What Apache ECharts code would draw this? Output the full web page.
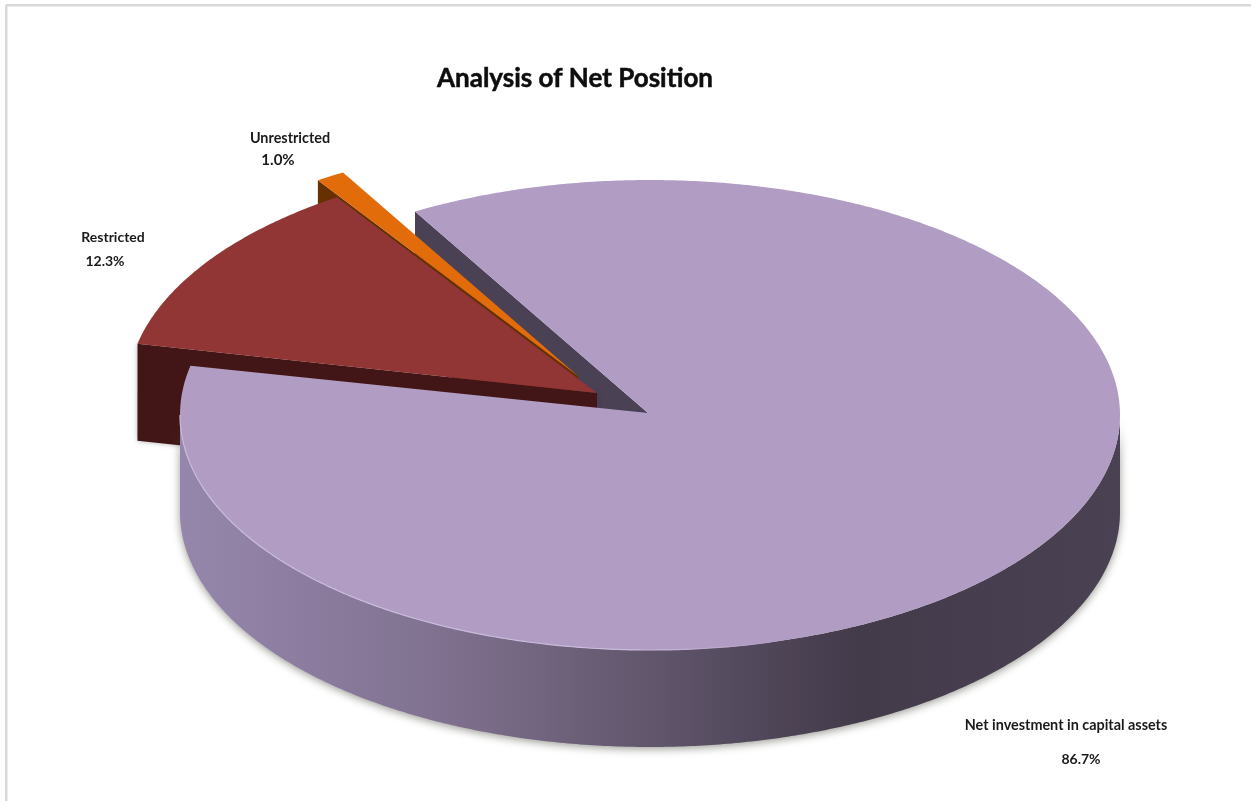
<!DOCTYPE html>
<html><head><meta charset="utf-8">
<script src="https://cdn.jsdelivr.net/npm/echarts@6/dist/echarts.min.js"></script>
<style>html,body{margin:0;padding:0;background:#fff}#c{width:1251px;height:801px}</style>
</head><body><div id="c"></div>
<script>
var categories = ['Net investment in capital assets', 'Restricted', 'Unrestricted'];
var shares = [86.7, 12.3, 1.0];
var chartTitle = 'Analysis of Net Position';

var CX = 650, CY = 415, RX = 470, RY = 235, DEPTH = 97, FIRST_ANGLE = -30;
var centerOffset = [[0, 0], [-53, -22], [-72, -39]];
var apexOffset = [[-2, -2], [-53, -22], [-72, -39]];
var topColors = ['#b19cc4', '#923535', '#e26b0a'];
var wallColors = ['#4a4155', '#421616', '#663000'];
var labelPos = [
  {name: [1066, 725], value: [1081, 759], nameSize: 14.4, valueSize: 14},
  {name: [113, 237], value: [105, 261], nameSize: 14, valueSize: 14},
  {name: [290, 138], value: [278, 160], nameSize: 14.4, valueSize: 15}
];
var FONT = 'Lato, "Open Sans", sans-serif';

function pt(c, deg, dy) {
  var a = deg * Math.PI / 180;
  return [c[0] + RX * Math.sin(a), c[1] - RY * Math.cos(a) + (dy || 0)];
}
function arc(c, from, to, dy) {
  var pts = [], n = Math.max(8, Math.ceil(Math.abs(to - from) * 2));
  for (var i = 0; i <= n; i++) pts.push(pt(c, from + (to - from) * i / n, dy));
  return pts;
}
function poly(points, style, z2) {
  return {type: 'polygon', shape: {points: points}, style: style, z2: z2, silent: true};
}
var total = shares.reduce(function (a, b) { return a + b; }, 0);

function renderSlice(params, api) {
  var i = api.value(0), start = FIRST_ANGLE;
  for (var k = 0; k < i; k++) start += shares[k] / total * 360;
  var end = start + api.value(1) / total * 360;
  var c = [CX + centerOffset[i][0], CY + centerOffset[i][1]];
  var apex = [CX + apexOffset[i][0], CY + apexOffset[i][1]];
  var kids = [];
  // paint order: Net start wall, Unrestricted, Restricted, Net top and rim
  var zBase = i === 0 ? 40 : (i === 1 ? 20 : 10);
  var s = pt(c, start);
  if (i === 0) {
    kids.push(poly([s, apex, [apex[0], apex[1] + DEPTH], [s[0], s[1] + DEPTH]],
      {fill: wallColors[0]}, 1));
    var wall = arc(c, 90, 270).concat(arc(c, 270, 90, DEPTH));
    kids.push(poly(wall, {
      fill: {type: 'linear', x: 0, y: 0, x2: 1, y2: 0, colorStops: [
        {offset: 0, color: '#9587ab'}, {offset: 0.13, color: '#8c7da0'},
        {offset: 0.3, color: '#7d6f8c'}, {offset: 0.5, color: '#61566c'},
        {offset: 0.72, color: '#433a4a'}, {offset: 1, color: '#4a4153'}]},
      shadowBlur: 9, shadowColor: 'rgba(70,70,60,0.55)', shadowOffsetY: 2
    }, zBase));
    kids.push({type: 'polyline', silent: true, z2: zBase + 2,
      shape: {points: arc(c, 270, 165)},
      style: {fill: null, lineWidth: 1.2, stroke: {type: 'linear', x: 0, y: 0, x2: 1, y2: 0, colorStops: [
        {offset: 0, color: '#c9bcdb'}, {offset: 0.75, color: '#c9bcdb'}, {offset: 1, color: '#b19cc4'}]}}});
  } else {
    kids.push(poly([s, apex, [apex[0], apex[1] + DEPTH], [s[0], s[1] + DEPTH]],
      {fill: wallColors[i], shadowBlur: i === 1 ? 5 : 0, shadowColor: 'rgba(60,60,60,0.4)'}, zBase));
  }
  var top = [apex].concat(arc(c, start, end));
  kids.push(poly(top, {fill: topColors[i]}, zBase + 1));

  var pos = labelPos[i];
  kids.push({type: 'text', silent: true, z2: 60, style: {
    x: pos.name[0], y: pos.name[1], text: categories[i], align: 'center', verticalAlign: 'middle',
    font: 'bold ' + pos.nameSize + 'px ' + FONT, fill: '#1a1a1a'}});
  kids.push({type: 'text', silent: true, z2: 60, style: {
    x: pos.value[0], y: pos.value[1], text: api.value(1).toFixed(1) + '%', align: 'center', verticalAlign: 'middle',
    font: 'bold ' + pos.valueSize + 'px ' + FONT, fill: '#1a1a1a'}});
  return {type: 'group', children: kids};
}

var chart = echarts.init(document.getElementById('c'), null, {renderer: 'canvas'});
chart.setOption({
  animation: false,
  backgroundColor: '#ffffff',
  title: {text: chartTitle, left: 570, top: 61, textAlign: 'center',
    textStyle: {fontFamily: FONT, fontWeight: 'bold', fontSize: 26, color: '#0d0d0d',
      textBorderColor: '#0d0d0d', textBorderWidth: 0.5}},
  graphic: [
    {type: 'line', silent: true, shape: {x1: 6, y1: 5.25, x2: 1251, y2: 5.25}, style: {stroke: '#d9d9d9', lineWidth: 2.5}},
    {type: 'line', silent: true, shape: {x1: 6.25, y1: 5, x2: 6.25, y2: 801}, style: {stroke: '#d9d9d9', lineWidth: 2.5}}
  ],
  series: [{
    type: 'custom',
    coordinateSystem: 'none',
    renderItem: renderSlice,
    data: shares.map(function (v, i) { return [i, v]; })
  }]
});
</script></body></html>
